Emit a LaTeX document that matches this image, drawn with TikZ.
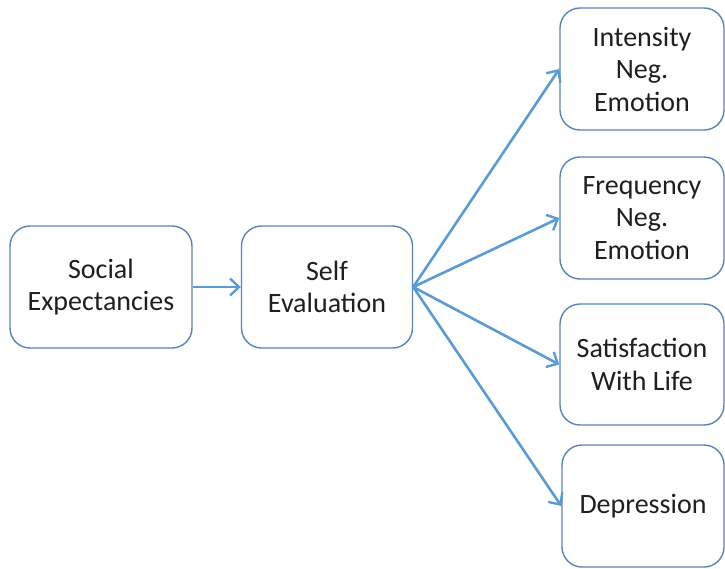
\documentclass[tikz,border=0pt]{standalone}
\usepackage{fontspec}
\setmainfont{Carlito}
\usetikzlibrary{arrows.meta}
\definecolor{boxline}{HTML}{5A84B5}
\definecolor{arrowc}{HTML}{5B9BD5}
\definecolor{txt}{HTML}{1F1F1F}
\begin{document}
\begin{tikzpicture}[x=1pt,y=-1pt,
  box/.style={draw=boxline, line width=1.4pt, rounded corners=20pt, fill=white,
    align=center, text=txt, inner sep=0pt,
    font=\fontsize{28}{32.5}\selectfont},
  link/.style={draw=arrowc, line width=2.6pt, -{Straight Barb[length=9pt,width=17pt,line width=2.4pt]}}]
\useasboundingbox (0,0) rectangle (725,568);
\node[box, minimum width=182pt, minimum height=122pt] (soc) at (101,287) {Social\\Expectancies};
\node[box, minimum width=171pt, minimum height=122pt] (self) at (327,287) {Self\\Evaluation};
\node[box, minimum width=164pt, minimum height=122pt] (int) at (642,69) {Intensity\\Neg.\\Emotion};
\node[box, minimum width=164pt, minimum height=122pt] (freq) at (642,218) {Frequency\\Neg.\\Emotion};
\node[box, minimum width=164pt, minimum height=121pt] (sat) at (642,364.5) {Satisfaction\\With Life};
\node[box, minimum width=162pt, minimum height=122pt] (dep) at (643,506) {Depression};
\draw[link] (soc.east) -- (self.west);
\draw[link] (self.east) -- (int.west);
\draw[link] (self.east) -- (freq.west);
\draw[link] (self.east) -- (sat.west);
\draw[link] (self.east) -- (dep.west);
\end{tikzpicture}
\end{document}
